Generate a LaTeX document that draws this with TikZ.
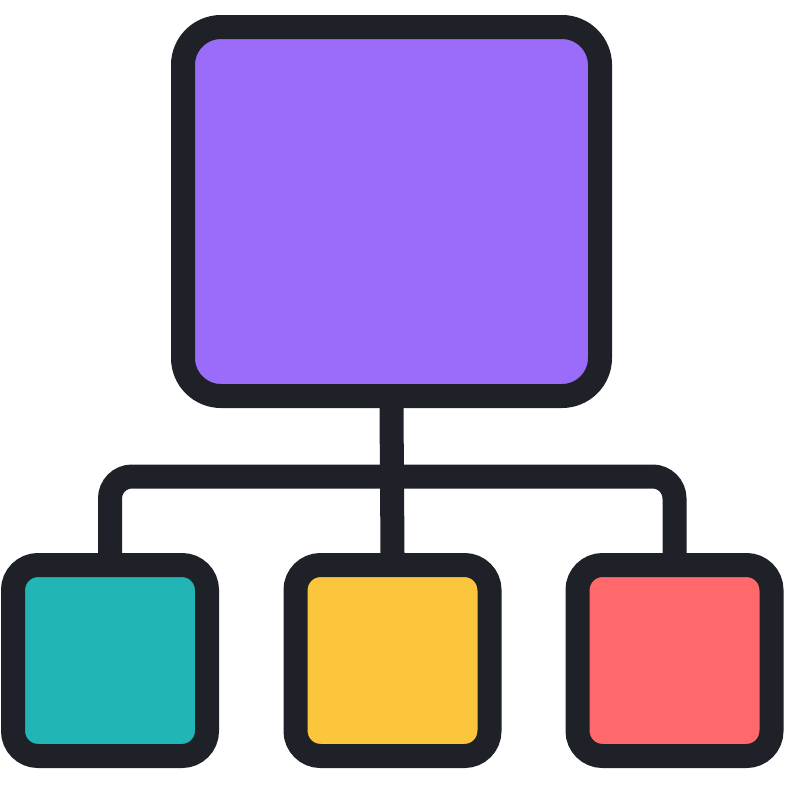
\documentclass[tikz,border=0pt]{standalone}
\usepackage{xcolor}
\definecolor{ink}{HTML}{1E2228}
\definecolor{topviolet}{HTML}{9B6BFA}
\definecolor{leafteal}{HTML}{22B5B5}
\definecolor{leafyellow}{HTML}{FCC63C}
\definecolor{leafred}{HTML}{FF696C}

\begin{document}
\begin{tikzpicture}[x=1pt,y=-1pt,
    box/.style={draw=ink,line width=24pt,rounded corners=25pt,inner sep=0pt},
    wire/.style={draw=ink,line width=24pt,rounded corners=22pt}]
                \useasboundingbox (0,0) rectangle (785,785);
                % top box and three leaves
                \node[box,fill=topviolet,minimum width=417pt,minimum height=369pt,rounded corners=38pt] (root) at (391.5,211.5) {};
                \node[box,fill=leafteal,minimum width=194pt,minimum height=191pt] (left) at (110,660.5) {};
                \node[box,fill=leafyellow,minimum width=194pt,minimum height=191pt] (mid) at (392.5,660.5) {};
                \node[box,fill=leafred,minimum width=194pt,minimum height=191pt] (right) at (674.5,660.5) {};
                \coordinate (hub) at (392.5,476.5);
                % connectors
                \draw[wire] (root.south) -- (mid.north);
                \draw[wire] (left.north) |- (hub) -| (right.north);
            \end{tikzpicture}
\end{document}
